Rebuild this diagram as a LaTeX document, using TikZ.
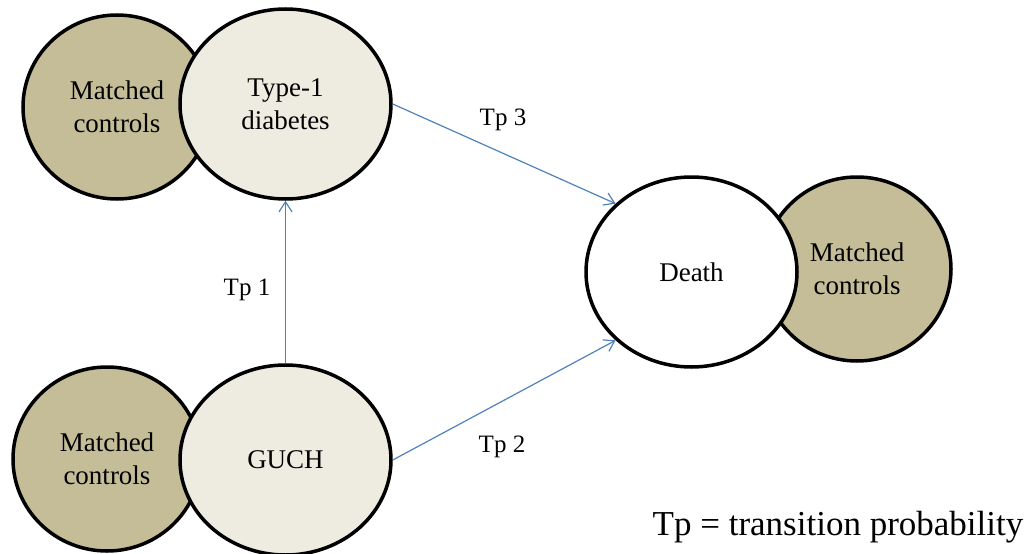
\documentclass[tikz,border=0pt]{standalone}
\usepackage{fontspec}
\setmainfont{Liberation Serif}
\usetikzlibrary{shapes.geometric,arrows.meta}
\definecolor{tandark}{HTML}{C4BD97}
\definecolor{tanlight}{HTML}{EEECE1}
\definecolor{linkblue}{HTML}{4F81BD}

\begin{document}
\begin{tikzpicture}[x=1pt,y=-1pt,
  state/.style={ellipse, draw=black, line width=3.5pt, inner sep=0pt,
    minimum width=211pt, minimum height=190pt, align=center,
    font=\fontsize{27}{33}\selectfont},
  ctrl/.style={state, fill=tandark, minimum width=188pt, minimum height=184pt},
  cohort/.style={state, fill=tanlight},
  endstate/.style={state, fill=white},
  link/.style={draw=linkblue, line width=1.2pt,
    -{Straight Barb[length=10pt,width=13pt,line width=1.2pt]}},
  tplabel/.style={font=\fontsize{25}{30}\selectfont},
  legend/.style={font=\fontsize{35}{40}\selectfont}]
  \useasboundingbox (0,0) rectangle (1031,554);

  % control groups behind the cohorts
  \node[ctrl] (mc1) at (117,107) {Matched\\controls};
  \node[ctrl] (mc2) at (107,459) {Matched\\controls};
  \node[ctrl] (mc3) at (857,269) {Matched\\controls};

  % cohort and end states
  \node[cohort] (t1d) at (285.5,104) {Type-1\\diabetes};
  \node[cohort] (guch) at (285.5,460) {GUCH};
  \node[endstate] (death) at (691.5,272) {Death};

  % transitions
  \draw[link] (guch.north) -- (t1d.south);
  \draw[link] (t1d.east) -- (death.138);
  \draw[link] (guch.east) -- (death.222);

  \node[tplabel] (tp1) at (247,290) {Tp 1};
  \node[tplabel] (tp3) at (503,120) {Tp 3};
  \node[tplabel] (tp2) at (502,447) {Tp 2};

  \node[legend] (key) at (838,527) {Tp = transition probability};
\end{tikzpicture}
\end{document}
